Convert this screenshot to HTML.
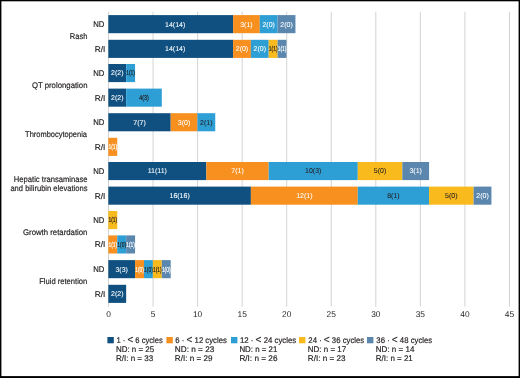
<!DOCTYPE html><html><head><meta charset="utf-8"><style>
html,body{margin:0;padding:0;background:#fff;}
body{width:520px;height:378px;overflow:hidden;position:relative;font-family:"Liberation Sans",sans-serif;}
svg{position:absolute;left:0;top:0;will-change:transform;}
</style></head><body>
<svg width="520" height="378" viewBox="0 0 520 378" font-family="Liberation Sans, sans-serif" text-rendering="geometricPrecision">
<rect x="0" y="0" width="520" height="378" fill="#fff"/>
<line x1="108.50" y1="11.7" x2="108.50" y2="306.6" stroke="#c8c8c8" stroke-width="0.8"/>
<line x1="153.05" y1="11.7" x2="153.05" y2="306.6" stroke="#c8c8c8" stroke-width="0.8"/>
<line x1="197.60" y1="11.7" x2="197.60" y2="306.6" stroke="#c8c8c8" stroke-width="0.8"/>
<line x1="242.15" y1="11.7" x2="242.15" y2="306.6" stroke="#c8c8c8" stroke-width="0.8"/>
<line x1="286.70" y1="11.7" x2="286.70" y2="306.6" stroke="#c8c8c8" stroke-width="0.8"/>
<line x1="331.25" y1="11.7" x2="331.25" y2="306.6" stroke="#c8c8c8" stroke-width="0.8"/>
<line x1="375.80" y1="11.7" x2="375.80" y2="306.6" stroke="#c8c8c8" stroke-width="0.8"/>
<line x1="420.35" y1="11.7" x2="420.35" y2="306.6" stroke="#c8c8c8" stroke-width="0.8"/>
<line x1="464.90" y1="11.7" x2="464.90" y2="306.6" stroke="#c8c8c8" stroke-width="0.8"/>
<line x1="509.45" y1="11.7" x2="509.45" y2="306.6" stroke="#c8c8c8" stroke-width="0.8"/>
<rect x="108.34" y="15.10" width="124.73" height="18.1" fill="#0f5080"/>
<text x="175.16" y="26.50" font-size="7.0" fill="#ffffff" text-anchor="middle" stroke="#ffffff" stroke-width="0.08">14(14)</text>
<rect x="233.07" y="15.10" width="26.73" height="18.1" fill="#f7901f"/>
<text x="246.43" y="26.50" font-size="7.0" fill="#ffffff" text-anchor="middle" stroke="#ffffff" stroke-width="0.08">3(1)</text>
<rect x="259.79" y="15.10" width="17.82" height="18.1" fill="#2e9fd5"/>
<text x="268.70" y="26.50" font-size="7.0" fill="#ffffff" text-anchor="middle" stroke="#ffffff" stroke-width="0.08">2(0)</text>
<rect x="277.61" y="15.10" width="17.82" height="18.1" fill="#5b87ae"/>
<text x="286.52" y="26.50" font-size="7.0" fill="#ffffff" text-anchor="middle" stroke="#ffffff" stroke-width="0.08">2(0)</text>
<text x="93.30" y="27.00" font-size="8.2" fill="#231f20" stroke="#231f20" stroke-width="0.18" textLength="11.11" lengthAdjust="spacingAndGlyphs">ND</text>
<rect x="108.34" y="39.80" width="124.73" height="18.1" fill="#0f5080"/>
<text x="175.16" y="51.20" font-size="7.0" fill="#ffffff" text-anchor="middle" stroke="#ffffff" stroke-width="0.08">14(14)</text>
<rect x="233.07" y="39.80" width="17.82" height="18.1" fill="#f7901f"/>
<text x="241.98" y="51.20" font-size="7.0" fill="#ffffff" text-anchor="middle" stroke="#ffffff" stroke-width="0.08">2(0)</text>
<rect x="250.88" y="39.80" width="17.82" height="18.1" fill="#2e9fd5"/>
<text x="259.79" y="51.20" font-size="7.0" fill="#ffffff" text-anchor="middle" stroke="#ffffff" stroke-width="0.08">2(0)</text>
<rect x="268.70" y="39.80" width="8.91" height="18.1" fill="#f9ba1e"/>
<text x="273.16" y="51.20" font-size="7.0" fill="#231f20" text-anchor="middle" stroke="#231f20" stroke-width="0.22" textLength="8.71" lengthAdjust="spacingAndGlyphs">1(1)</text>
<rect x="277.61" y="39.80" width="8.91" height="18.1" fill="#5b87ae"/>
<text x="282.07" y="51.20" font-size="7.0" fill="#ffffff" text-anchor="middle" stroke="#ffffff" stroke-width="0.22" textLength="8.71" lengthAdjust="spacingAndGlyphs">1(1)</text>
<text x="94.74" y="51.70" font-size="8.2" fill="#231f20" stroke="#231f20" stroke-width="0.18" textLength="10.59" lengthAdjust="spacingAndGlyphs">R/I</text>
<text x="69.81" y="39.10" font-size="8.2" fill="#231f20" stroke="#231f20" stroke-width="0.18" textLength="17.67" lengthAdjust="spacingAndGlyphs">Rash</text>
<rect x="108.34" y="64.00" width="17.82" height="18.1" fill="#0f5080"/>
<text x="117.25" y="75.40" font-size="7.0" fill="#ffffff" text-anchor="middle" stroke="#ffffff" stroke-width="0.08">2(2)</text>
<rect x="126.16" y="64.00" width="8.91" height="18.1" fill="#2e9fd5"/>
<text x="130.61" y="75.40" font-size="7.0" fill="#231f20" text-anchor="middle" stroke="#231f20" stroke-width="0.22" textLength="8.71" lengthAdjust="spacingAndGlyphs">1(1)</text>
<text x="93.30" y="75.90" font-size="8.2" fill="#231f20" stroke="#231f20" stroke-width="0.18" textLength="11.11" lengthAdjust="spacingAndGlyphs">ND</text>
<rect x="108.34" y="88.60" width="17.82" height="18.1" fill="#0f5080"/>
<text x="117.25" y="100.00" font-size="7.0" fill="#ffffff" text-anchor="middle" stroke="#ffffff" stroke-width="0.08">2(2)</text>
<rect x="126.16" y="88.60" width="35.64" height="18.1" fill="#2e9fd5"/>
<text x="143.98" y="100.00" font-size="7.0" fill="#231f20" text-anchor="middle" stroke="#231f20" stroke-width="0.22" textLength="9.50" lengthAdjust="spacingAndGlyphs">4(3)</text>
<text x="94.74" y="100.50" font-size="8.2" fill="#231f20" stroke="#231f20" stroke-width="0.18" textLength="10.59" lengthAdjust="spacingAndGlyphs">R/I</text>
<text x="31.92" y="87.70" font-size="8.2" fill="#231f20" stroke="#231f20" stroke-width="0.18" textLength="55.59" lengthAdjust="spacingAndGlyphs">QT prolongation</text>
<rect x="108.34" y="113.20" width="62.36" height="18.1" fill="#0f5080"/>
<text x="139.52" y="124.60" font-size="7.0" fill="#ffffff" text-anchor="middle" stroke="#ffffff" stroke-width="0.08">7(7)</text>
<rect x="170.70" y="113.20" width="26.73" height="18.1" fill="#f7901f"/>
<text x="184.07" y="124.60" font-size="7.0" fill="#ffffff" text-anchor="middle" stroke="#ffffff" stroke-width="0.08">3(0)</text>
<rect x="197.43" y="113.20" width="17.82" height="18.1" fill="#2e9fd5"/>
<text x="206.34" y="124.60" font-size="7.0" fill="#231f20" text-anchor="middle" stroke="#231f20" stroke-width="0.08">2(1)</text>
<text x="93.30" y="125.10" font-size="8.2" fill="#231f20" stroke="#231f20" stroke-width="0.18" textLength="11.11" lengthAdjust="spacingAndGlyphs">ND</text>
<rect x="108.34" y="137.80" width="8.91" height="18.1" fill="#f7901f"/>
<text x="112.79" y="149.20" font-size="7.0" fill="#ffffff" text-anchor="middle" stroke="#ffffff" stroke-width="0.22" textLength="8.71" lengthAdjust="spacingAndGlyphs">1(1)</text>
<text x="94.74" y="149.70" font-size="8.2" fill="#231f20" stroke="#231f20" stroke-width="0.18" textLength="10.59" lengthAdjust="spacingAndGlyphs">R/I</text>
<text x="25.12" y="137.10" font-size="8.2" fill="#231f20" stroke="#231f20" stroke-width="0.18" textLength="61.89" lengthAdjust="spacingAndGlyphs">Thrombocytopenia</text>
<rect x="108.34" y="162.00" width="98.00" height="18.1" fill="#0f5080"/>
<text x="157.34" y="173.40" font-size="7.0" fill="#ffffff" text-anchor="middle" stroke="#ffffff" stroke-width="0.08">11(11)</text>
<rect x="206.34" y="162.00" width="62.36" height="18.1" fill="#f7901f"/>
<text x="237.52" y="173.40" font-size="7.0" fill="#ffffff" text-anchor="middle" stroke="#ffffff" stroke-width="0.08">7(1)</text>
<rect x="268.70" y="162.00" width="89.09" height="18.1" fill="#2e9fd5"/>
<text x="313.25" y="173.40" font-size="7.0" fill="#231f20" text-anchor="middle" stroke="#231f20" stroke-width="0.08">10(3)</text>
<rect x="357.79" y="162.00" width="44.54" height="18.1" fill="#f9ba1e"/>
<text x="380.06" y="173.40" font-size="7.0" fill="#231f20" text-anchor="middle" stroke="#231f20" stroke-width="0.08">5(0)</text>
<rect x="402.34" y="162.00" width="26.73" height="18.1" fill="#5b87ae"/>
<text x="415.70" y="173.40" font-size="7.0" fill="#ffffff" text-anchor="middle" stroke="#ffffff" stroke-width="0.08">3(1)</text>
<text x="93.30" y="173.90" font-size="8.2" fill="#231f20" stroke="#231f20" stroke-width="0.18" textLength="11.11" lengthAdjust="spacingAndGlyphs">ND</text>
<rect x="108.34" y="186.60" width="142.54" height="18.1" fill="#0f5080"/>
<text x="179.61" y="198.00" font-size="7.0" fill="#ffffff" text-anchor="middle" stroke="#ffffff" stroke-width="0.08">16(16)</text>
<rect x="250.88" y="186.60" width="106.91" height="18.1" fill="#f7901f"/>
<text x="304.34" y="198.00" font-size="7.0" fill="#ffffff" text-anchor="middle" stroke="#ffffff" stroke-width="0.08">12(1)</text>
<rect x="357.79" y="186.60" width="71.27" height="18.1" fill="#2e9fd5"/>
<text x="393.43" y="198.00" font-size="7.0" fill="#231f20" text-anchor="middle" stroke="#231f20" stroke-width="0.08">8(1)</text>
<rect x="429.06" y="186.60" width="44.54" height="18.1" fill="#f9ba1e"/>
<text x="451.34" y="198.00" font-size="7.0" fill="#231f20" text-anchor="middle" stroke="#231f20" stroke-width="0.08">5(0)</text>
<rect x="473.61" y="186.60" width="17.82" height="18.1" fill="#5b87ae"/>
<text x="482.52" y="198.00" font-size="7.0" fill="#ffffff" text-anchor="middle" stroke="#ffffff" stroke-width="0.08">2(0)</text>
<text x="94.74" y="198.50" font-size="8.2" fill="#231f20" stroke="#231f20" stroke-width="0.18" textLength="10.59" lengthAdjust="spacingAndGlyphs">R/I</text>
<text x="13.80" y="181.70" font-size="8.2" fill="#231f20" stroke="#231f20" stroke-width="0.18" textLength="73.81" lengthAdjust="spacingAndGlyphs">Hepatic transaminase</text>
<text x="10.42" y="190.60" font-size="8.2" fill="#231f20" stroke="#231f20" stroke-width="0.18" textLength="77.01" lengthAdjust="spacingAndGlyphs">and bilirubin elevations</text>
<rect x="108.34" y="211.00" width="8.91" height="18.1" fill="#f9ba1e"/>
<text x="112.79" y="222.40" font-size="7.0" fill="#231f20" text-anchor="middle" stroke="#231f20" stroke-width="0.22" textLength="8.71" lengthAdjust="spacingAndGlyphs">1(1)</text>
<text x="93.30" y="222.90" font-size="8.2" fill="#231f20" stroke="#231f20" stroke-width="0.18" textLength="11.11" lengthAdjust="spacingAndGlyphs">ND</text>
<rect x="108.34" y="235.40" width="8.91" height="18.1" fill="#f7901f"/>
<text x="112.79" y="246.80" font-size="7.0" fill="#ffffff" text-anchor="middle" stroke="#ffffff" stroke-width="0.22" textLength="8.71" lengthAdjust="spacingAndGlyphs">1(1)</text>
<rect x="117.25" y="235.40" width="8.91" height="18.1" fill="#2e9fd5"/>
<text x="121.70" y="246.80" font-size="7.0" fill="#231f20" text-anchor="middle" stroke="#231f20" stroke-width="0.22" textLength="8.71" lengthAdjust="spacingAndGlyphs">1(0)</text>
<rect x="126.16" y="235.40" width="8.91" height="18.1" fill="#5b87ae"/>
<text x="130.61" y="246.80" font-size="7.0" fill="#ffffff" text-anchor="middle" stroke="#ffffff" stroke-width="0.22" textLength="8.71" lengthAdjust="spacingAndGlyphs">1(1)</text>
<text x="94.74" y="247.30" font-size="8.2" fill="#231f20" stroke="#231f20" stroke-width="0.18" textLength="10.59" lengthAdjust="spacingAndGlyphs">R/I</text>
<text x="23.03" y="235.40" font-size="8.2" fill="#231f20" stroke="#231f20" stroke-width="0.18" textLength="64.41" lengthAdjust="spacingAndGlyphs">Growth retardation</text>
<rect x="108.34" y="260.10" width="26.73" height="18.1" fill="#0f5080"/>
<text x="121.70" y="271.50" font-size="7.0" fill="#ffffff" text-anchor="middle" stroke="#ffffff" stroke-width="0.08">3(3)</text>
<rect x="135.07" y="260.10" width="8.91" height="18.1" fill="#f7901f"/>
<text x="139.52" y="271.50" font-size="7.0" fill="#ffffff" text-anchor="middle" stroke="#ffffff" stroke-width="0.22" textLength="8.71" lengthAdjust="spacingAndGlyphs">1(0)</text>
<rect x="143.98" y="260.10" width="8.91" height="18.1" fill="#2e9fd5"/>
<text x="148.43" y="271.50" font-size="7.0" fill="#231f20" text-anchor="middle" stroke="#231f20" stroke-width="0.22" textLength="8.71" lengthAdjust="spacingAndGlyphs">1(0)</text>
<rect x="152.88" y="260.10" width="8.91" height="18.1" fill="#f9ba1e"/>
<text x="157.34" y="271.50" font-size="7.0" fill="#231f20" text-anchor="middle" stroke="#231f20" stroke-width="0.22" textLength="8.71" lengthAdjust="spacingAndGlyphs">1(1)</text>
<rect x="161.79" y="260.10" width="8.91" height="18.1" fill="#5b87ae"/>
<text x="166.25" y="271.50" font-size="7.0" fill="#ffffff" text-anchor="middle" stroke="#ffffff" stroke-width="0.22" textLength="8.71" lengthAdjust="spacingAndGlyphs">1(0)</text>
<text x="93.30" y="272.00" font-size="8.2" fill="#231f20" stroke="#231f20" stroke-width="0.18" textLength="11.11" lengthAdjust="spacingAndGlyphs">ND</text>
<rect x="108.34" y="284.80" width="17.82" height="18.1" fill="#0f5080"/>
<text x="117.25" y="296.20" font-size="7.0" fill="#ffffff" text-anchor="middle" stroke="#ffffff" stroke-width="0.08">2(2)</text>
<text x="94.74" y="296.70" font-size="8.2" fill="#231f20" stroke="#231f20" stroke-width="0.18" textLength="10.59" lengthAdjust="spacingAndGlyphs">R/I</text>
<text x="39.15" y="284.10" font-size="8.2" fill="#231f20" stroke="#231f20" stroke-width="0.18" textLength="48.16" lengthAdjust="spacingAndGlyphs">Fluid retention</text>
<text x="108.50" y="317.2" font-size="8.4" fill="#231f20" text-anchor="middle">0</text>
<text x="153.05" y="317.2" font-size="8.4" fill="#231f20" text-anchor="middle">5</text>
<text x="197.60" y="317.2" font-size="8.4" fill="#231f20" text-anchor="middle">10</text>
<text x="242.15" y="317.2" font-size="8.4" fill="#231f20" text-anchor="middle">15</text>
<text x="286.70" y="317.2" font-size="8.4" fill="#231f20" text-anchor="middle">20</text>
<text x="331.25" y="317.2" font-size="8.4" fill="#231f20" text-anchor="middle">25</text>
<text x="375.80" y="317.2" font-size="8.4" fill="#231f20" text-anchor="middle">30</text>
<text x="420.35" y="317.2" font-size="8.4" fill="#231f20" text-anchor="middle">35</text>
<text x="464.90" y="317.2" font-size="8.4" fill="#231f20" text-anchor="middle">40</text>
<text x="509.45" y="317.2" font-size="8.4" fill="#231f20" text-anchor="middle">45</text>
<rect x="107.4" y="337" width="6.4" height="6.3" fill="#0f5080"/>
<text x="116.50" y="342.80" font-size="8.2" fill="#231f20" stroke="#231f20" stroke-width="0.18" textLength="46.33" lengthAdjust="spacingAndGlyphs">1 · <tspan font-size="10.6" dy="0.5">&lt;</tspan><tspan dy="-0.5"> 6 cycles</tspan></text>
<text x="115.92" y="351.90" font-size="8.2" fill="#231f20" stroke="#231f20" stroke-width="0.18" textLength="38.29" lengthAdjust="spacingAndGlyphs">ND: n = 25</text>
<text x="115.91" y="360.90" font-size="8.2" fill="#231f20" stroke="#231f20" stroke-width="0.18" textLength="37.34" lengthAdjust="spacingAndGlyphs">R/I: n = 33</text>
<rect x="166.4" y="337" width="6.4" height="6.3" fill="#f7901f"/>
<text x="175.37" y="342.80" font-size="8.2" fill="#231f20" stroke="#231f20" stroke-width="0.18" textLength="51.55" lengthAdjust="spacingAndGlyphs">6 · <tspan font-size="10.6" dy="0.5">&lt;</tspan><tspan dy="-0.5"> 12 cycles</tspan></text>
<text x="174.80" y="351.90" font-size="8.2" fill="#231f20" stroke="#231f20" stroke-width="0.18" textLength="39.53" lengthAdjust="spacingAndGlyphs">ND: n = 23</text>
<text x="174.81" y="360.90" font-size="8.2" fill="#231f20" stroke="#231f20" stroke-width="0.18" textLength="37.60" lengthAdjust="spacingAndGlyphs">R/I: n = 29</text>
<rect x="231.0" y="337" width="6.4" height="6.3" fill="#2e9fd5"/>
<text x="239.98" y="342.80" font-size="8.2" fill="#231f20" stroke="#231f20" stroke-width="0.18" textLength="56.24" lengthAdjust="spacingAndGlyphs">12 · <tspan font-size="10.6" dy="0.5">&lt;</tspan><tspan dy="-0.5"> 24 cycles</tspan></text>
<text x="239.43" y="351.90" font-size="8.2" fill="#231f20" stroke="#231f20" stroke-width="0.18" textLength="37.88" lengthAdjust="spacingAndGlyphs">ND: n = 21</text>
<text x="239.40" y="360.90" font-size="8.2" fill="#231f20" stroke="#231f20" stroke-width="0.18" textLength="38.07" lengthAdjust="spacingAndGlyphs">R/I: n = 26</text>
<rect x="299.0" y="337" width="6.4" height="6.3" fill="#f9ba1e"/>
<text x="308.37" y="342.80" font-size="8.2" fill="#231f20" stroke="#231f20" stroke-width="0.18" textLength="55.79" lengthAdjust="spacingAndGlyphs">24 · <tspan font-size="10.6" dy="0.5">&lt;</tspan><tspan dy="-0.5"> 36 cycles</tspan></text>
<text x="307.81" y="351.90" font-size="8.2" fill="#231f20" stroke="#231f20" stroke-width="0.18" textLength="38.40" lengthAdjust="spacingAndGlyphs">ND: n = 17</text>
<text x="307.81" y="360.90" font-size="8.2" fill="#231f20" stroke="#231f20" stroke-width="0.18" textLength="37.60" lengthAdjust="spacingAndGlyphs">R/I: n = 23</text>
<rect x="367.0" y="337" width="6.4" height="6.3" fill="#5b87ae"/>
<text x="376.37" y="342.80" font-size="8.2" fill="#231f20" stroke="#231f20" stroke-width="0.18" textLength="55.79" lengthAdjust="spacingAndGlyphs">36 · <tspan font-size="10.6" dy="0.5">&lt;</tspan><tspan dy="-0.5"> 48 cycles</tspan></text>
<text x="375.81" y="351.90" font-size="8.2" fill="#231f20" stroke="#231f20" stroke-width="0.18" textLength="38.56" lengthAdjust="spacingAndGlyphs">ND: n = 14</text>
<text x="375.82" y="360.90" font-size="8.2" fill="#231f20" stroke="#231f20" stroke-width="0.18" textLength="36.99" lengthAdjust="spacingAndGlyphs">R/I: n = 21</text>
<rect x="0" y="0" width="520" height="1.3" fill="#000"/>
<rect x="0" y="0" width="1.4" height="378" fill="#000"/>
<rect x="518.6" y="0" width="1.4" height="378" fill="#000"/>
<rect x="0" y="376.1" width="520" height="1.9" fill="#000"/>
</svg>
</body></html>
